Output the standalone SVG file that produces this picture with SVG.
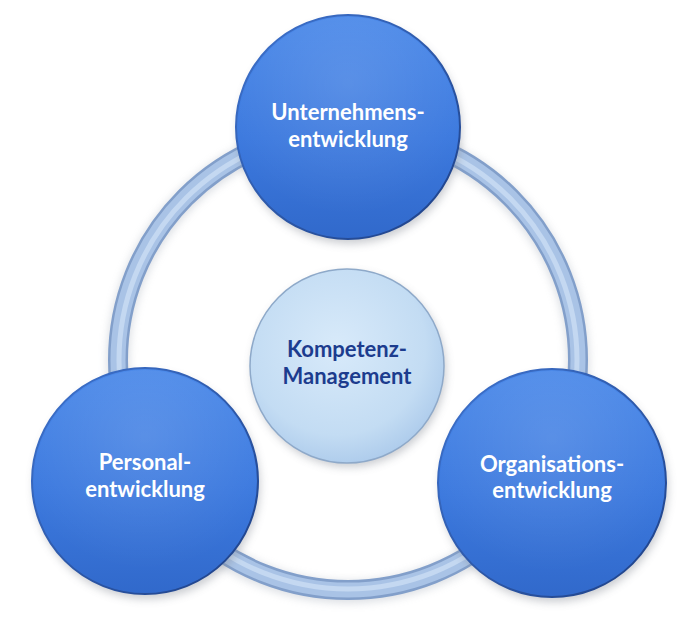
<svg xmlns="http://www.w3.org/2000/svg" width="691" height="637" viewBox="0 0 691 637">
  <defs>
    <linearGradient id="blueFill" x1="0" y1="0" x2="0" y2="1">
      <stop offset="0" stop-color="#4b89e9"/>
      <stop offset="0.55" stop-color="#3c79de"/>
      <stop offset="1" stop-color="#3169cb"/>
    </linearGradient>
    <linearGradient id="blueEdge" x1="0" y1="0" x2="1" y2="1">
      <stop offset="0" stop-color="#3f74d0"/>
      <stop offset="1" stop-color="#1d3f85"/>
    </linearGradient>
    <radialGradient id="lightFill" cx="0.45" cy="0.4" r="0.65">
      <stop offset="0" stop-color="#d8eafa"/>
      <stop offset="0.7" stop-color="#c3dcf3"/>
      <stop offset="1" stop-color="#a9c8ea"/>
    </radialGradient>
    <radialGradient id="gloss" cx="0.5" cy="0.3" r="0.6">
      <stop offset="0" stop-color="#ffffff" stop-opacity="0.12"/>
      <stop offset="1" stop-color="#ffffff" stop-opacity="0"/>
    </radialGradient>
    <filter id="shadow" x="-30%" y="-30%" width="160%" height="160%">
      <feGaussianBlur stdDeviation="4"/>
    </filter>
    <style>
      .outer { fill: url(#blueFill); stroke: url(#blueEdge); stroke-width: 2; }
      .gloss { fill: url(#gloss); }
      .shadow { fill: #8a8f99; opacity: 0.45; filter: url(#shadow); }
      .center { fill: url(#lightFill); stroke: #8ea9c9; stroke-width: 1.5; }
      .lbl { font-family: Lato, "Open Sans", "Liberation Sans", sans-serif; font-weight: bold; font-size: 22px; text-anchor: middle; }
      .w { fill: #ffffff; }
      .d { fill: #1c3c8e; }
    </style>
  </defs>
  <rect width="691" height="637" fill="#ffffff"/>

  <g id="connectors">
    <circle cx="348" cy="362" r="230" fill="none" stroke="#9aa3b0" stroke-width="22" opacity="0.35" filter="url(#shadow)"/>
    <circle cx="348" cy="360" r="230" fill="none" stroke="#829fca" stroke-width="20"/>
    <circle cx="348" cy="360" r="230" fill="none" stroke="#a9c3e6" stroke-width="15"/>
    <circle cx="348" cy="360" r="229" fill="none" stroke="#c4d8f1" stroke-width="5"/>
  </g>

  <g id="node-center">
    <circle class="shadow" cx="349" cy="370" r="97"/>
    <circle class="center" cx="347" cy="366" r="97"/>
    <text class="lbl d" x="347" y="357">Kompetenz-</text>
    <text class="lbl d" x="347" y="384">Management</text>
  </g>

  <g id="node-top">
    <circle class="shadow" cx="350" cy="132" r="112"/>
    <circle class="outer" cx="348" cy="127" r="112"/>
    <circle class="gloss" cx="348" cy="127" r="110"/>
    <text class="lbl w" x="348" y="120">Unternehmens-</text>
    <text class="lbl w" x="348" y="147">entwicklung</text>
  </g>

  <g id="node-left">
    <circle class="shadow" cx="147" cy="486" r="113"/>
    <circle class="outer" cx="145" cy="481" r="113"/>
    <circle class="gloss" cx="145" cy="481" r="111"/>
    <text class="lbl w" x="145" y="470">Personal-</text>
    <text class="lbl w" x="145" y="497">entwicklung</text>
  </g>

  <g id="node-right">
    <circle class="shadow" cx="554" cy="488" r="114"/>
    <circle class="outer" cx="552" cy="483" r="114"/>
    <circle class="gloss" cx="552" cy="483" r="112"/>
    <text class="lbl w" x="552" y="472">Organisations-</text>
    <text class="lbl w" x="552" y="498">entwicklung</text>
  </g>
</svg>
